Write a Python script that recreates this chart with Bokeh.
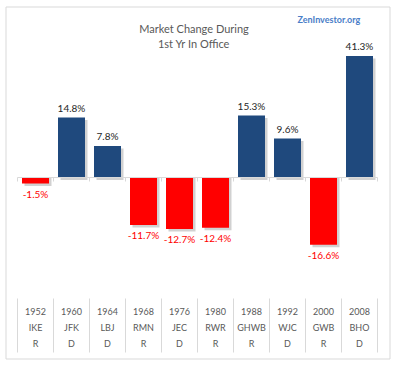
from bokeh.plotting import figure
from bokeh.models import Range1d, ColumnDataSource
from bokeh.core.properties import value
from bokeh.embed import file_html
from bokeh.resources import INLINE

# ---- data ----
years = ["1952", "1960", "1964", "1968", "1976", "1980", "1988", "1992", "2000", "2008"]
presidents = ["IKE", "JFK", "LBJ", "RMN", "JEC", "RWR", "GHWB", "WJC", "GWB", "BHO"]
parties = ["R", "D", "D", "R", "D", "R", "R", "D", "R", "D"]
changes = [-1.5, 14.8, 7.8, -11.7, -12.7, -12.4, 15.3, 9.6, -16.6, 41.3]
title_lines = ["Market Change During", "1st Yr In Office"]
watermark = "ZenInvestor.org"
AXIS_MAX = 30.0
AXIS_MIN = -20.0

# ---- layout constants ----
W, H = 392, 362
SLOT = 36.0          # px per category
LEFT = 17.0          # px from figure edge to first slot
ZERO_PX = 177.0      # px from top of figure to zero line
PPU = 4.05           # px per percent

FONT = "Lato"
BLUE = "#1F497D"
RED = "#FF0000"
GRID = "#D9D9D9"
TXT = "#595959"

n = len(years)
xs = [i + 0.5 for i in range(n)]


def ypx(py):
    """figure pixel (from top) -> data y"""
    return (ZERO_PX - py) / PPU


def xpx(px):
    """figure pixel (from left) -> data x"""
    return (px - LEFT) / SLOT


p = figure(width=W, height=H, output_backend="svg", toolbar_location=None,
           x_range=Range1d(xpx(0), xpx(W)), y_range=Range1d(ypx(H), ypx(0)),
           min_border=0, min_border_left=0, min_border_right=0,
           min_border_top=0, min_border_bottom=0)
p.axis.visible = False
p.grid.visible = False
p.outline_line_color = None
p.background_fill_color = "white"
p.border_fill_color = "white"

# chart border
p.quad(left=[xpx(5.5)], right=[xpx(389.5)], top=[ypx(6.5)], bottom=[ypx(358.5)],
       fill_color=None, line_color=GRID, line_width=1)

tops = [min(max(v, 0), AXIS_MAX) for v in changes]
bots = [max(min(v, 0), AXIS_MIN) for v in changes]
colors = [BLUE if v >= 0 else RED for v in changes]

# shadow
dx = 2.5 / SLOT
dy = 2.5 / PPU
sh = ColumnDataSource(dict(x=[x + dx for x in xs], top=[t - dy if t > 0 else t for t in tops],
                           bottom=[b - dy for b in bots]))
p.vbar(x="x", top="top", bottom="bottom", width=0.75, source=sh,
       fill_color="#9a9a9a", fill_alpha=0.45, line_color=None)

src = ColumnDataSource(dict(x=xs, top=tops, bottom=bots, color=colors))
p.vbar(x="x", top="top", bottom="bottom", width=0.75, source=src,
       fill_color="color", line_color=None)

# zero axis line and ticks
p.segment(x0=[0], y0=[0], x1=[n], y1=[0], line_color=GRID, line_width=1)
p.segment(x0=list(range(n + 1)), y0=[0] * (n + 1), x1=list(range(n + 1)),
          y1=[-4 / PPU] * (n + 1), line_color=GRID, line_width=1)

# data labels
off = 10 / PPU
lab_y = [t + off if v >= 0 else b - off for v, t, b in zip(changes, tops, bots)]
lab_c = ["#262626" if v >= 0 else RED for v in changes]
lab_t = [f"{v:.1f}%" for v in changes]
p.text(x=xs, y=lab_y, text=lab_t, text_color=lab_c, text_align="center",
       text_baseline="middle", text_font=value(FONT), text_font_size="10px")

# title
p.text(x=[xpx(193.5)] * 2, y=[ypx(28), ypx(43)], text=title_lines, text_color=TXT,
       text_align="center", text_baseline="middle", text_font=value(FONT),
       text_font_size="11px")
p.text(x=[xpx(297)], y=[ypx(19)], text=[watermark], text_color="#4A7EC8",
       text_align="left", text_baseline="middle", text_font=value(FONT),
       text_font_size="9px", text_font_style="bold")

# data table
p.segment(x0=list(range(n + 1)), y0=[ypx(298)] * (n + 1), x1=list(range(n + 1)),
          y1=[ypx(352)] * (n + 1), line_color=GRID, line_width=1)
for row, py in zip([years, presidents, parties], [311, 327, 343]):
    p.text(x=xs, y=[ypx(py)] * n, text=row, text_color=TXT, text_align="center",
           text_baseline="middle", text_font=value(FONT), text_font_size="9px")

open("out.html", "w").write(file_html(p, INLINE))
